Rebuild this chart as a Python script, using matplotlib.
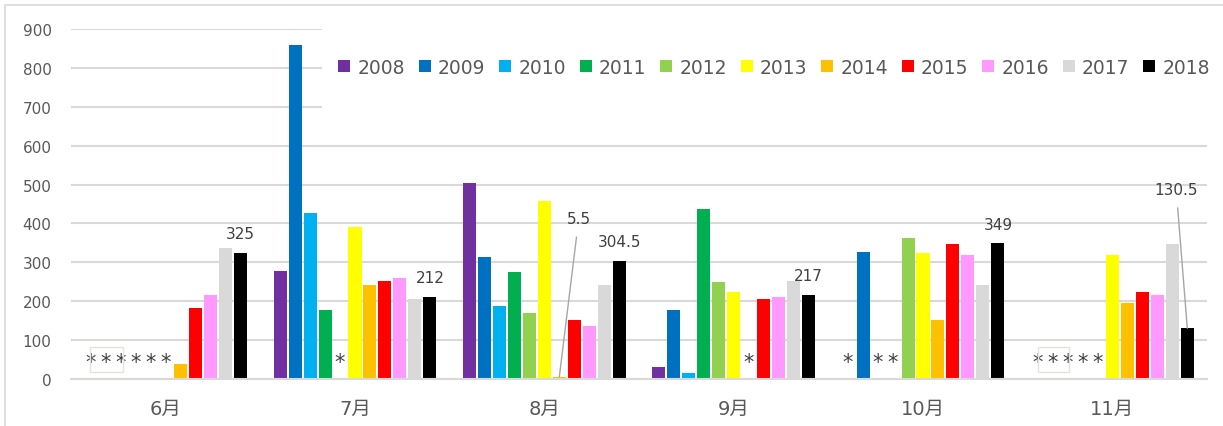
import matplotlib.pyplot as plt
import numpy as np
from matplotlib.patches import Patch, Rectangle

nan = np.nan

months = ["6月", "7月", "8月", "9月", "10月", "11月"]
years = ["2008", "2009", "2010", "2011", "2012", "2013",
         "2014", "2015", "2016", "2017", "2018"]
colors = ["#7030A0", "#0070C0", "#00B0F0", "#00B050", "#92D050", "#FFFF00",
          "#FFC000", "#FF0000", "#FF99FF", "#D9D9D9", "#000000"]

v2008 = [nan, 278, 504, 31, nan, nan]
v2009 = [nan, 860, 313, 177, 327, nan]
v2010 = [nan, 426, 188, 16, nan, nan]
v2011 = [nan, 177, 275, 436, nan, nan]
v2012 = [nan, nan, 170, 249, 362, nan]
v2013 = [nan, 392, 459, 223, 324, 320]
v2014 = [38, 242, 5.5, nan, 152, 196]
v2015 = [182, 253, 151, 207, 346, 223]
v2016 = [216, 260, 136, 211, 320, 216]
v2017 = [336, 205, 242, 252, 242, 346]
v2018 = [325, 212, 304.5, 217, 349, 130.5]

series = [v2008, v2009, v2010, v2011, v2012, v2013,
          v2014, v2015, v2016, v2017, v2018]

# labels on the 2018 bars; some have leader lines
label_2018 = ["325", "212", "304.5", "217", "349", "130.5"]

plt.rcParams["font.family"] = ["DejaVu Sans", "Noto Sans CJK SC"]
TXT = "#595959"

W, H = 1223, 427
fig = plt.figure(figsize=(W / 100, H / 100), dpi=100)
ax = fig.add_axes([71 / W, 1 - 380 / H, (1207 - 71) / W, 350 / H])

# outer chart border (top + left)
fig.add_artist(Rectangle((5 / W, -0.01), 1.0, 1 - 6 / H + 0.01,
                         transform=fig.transFigure, fill=False,
                         edgecolor="#d9d9d9", lw=1.2))

x = np.arange(len(months))
step = 0.0792
bw = 0.0687
offsets = (np.arange(len(years)) - 5) * step

for i, (vals, c) in enumerate(zip(series, colors)):
    vals = np.array(vals, dtype=float)
    ax.bar(x + offsets[i], np.nan_to_num(vals), width=bw, color=c,
           zorder=2, linewidth=0)
    for j, v in enumerate(vals):
        if np.isnan(v):
            ax.annotate("*", (x[j] + offsets[i], 0), xytext=(0, 12),
                        textcoords="offset points", ha="center", va="center",
                        fontsize=15, color="#404040", zorder=3)

# data labels on 2018
for j, v in enumerate(v2018):
    xb = x[j] + offsets[10]
    if label_2018[j] == "130.5":
        ax.annotate(label_2018[j], (xb, v), xytext=(-8, 100),
                    textcoords="offset points", ha="center", va="center",
                    fontsize=11, color="#404040",
                    arrowprops=dict(arrowstyle="-", color="#a6a6a6", lw=1,
                                    shrinkA=6, shrinkB=0))
    else:
        ax.annotate(label_2018[j], (xb, v), xytext=(0, 13.5),
                    textcoords="offset points", ha="center", va="center",
                    fontsize=11, color="#404040")

# 5.5 label on 8月 2014 with leader line
ax.annotate("5.5", (x[2] + offsets[6], v2014[2]), xytext=(14, 114),
            textcoords="offset points", ha="center", va="center",
            fontsize=11, color="#404040",
            arrowprops=dict(arrowstyle="-", color="#a6a6a6", lw=1,
                            shrinkA=6, shrinkB=0))

# faint leftover text boxes around asterisks
for x0, x1 in [(-0.40, -0.225), (4.608, 4.772)]:
    ax.add_patch(Rectangle((x0, 18), x1 - x0, 64, fill=False,
                           edgecolor="#e4e4de", lw=1, zorder=3))

# legend background hides the upper gridlines
ax.add_patch(Rectangle((322 / W, 1 - 118 / H), (1215 - 322) / W, 96 / H,
                       transform=fig.transFigure, facecolor="white",
                       edgecolor="none", zorder=1))

ax.set_xlim(-0.5, len(months) - 0.5)
ax.set_ylim(0, 900)
ax.set_yticks(np.arange(0, 901, 100))
ax.set_xticks(x)
ax.set_xticklabels(months)
ax.yaxis.grid(True, color="#d9d9d9", lw=1.5)
ax.set_axisbelow(True)
for s in ["top", "right", "left"]:
    ax.spines[s].set_visible(False)
ax.spines["bottom"].set_color("#d9d9d9")
ax.spines["bottom"].set_linewidth(1.5)
ax.tick_params(axis="y", length=0, pad=14, labelsize=11, labelcolor=TXT)
ax.tick_params(axis="x", length=0, pad=14, labelsize=14, labelcolor=TXT)

handles = [Patch(facecolor=c, edgecolor="none") for c in colors]
fig.legend(handles, years, loc="center", ncol=11,
           bbox_to_anchor=(774 / W, 1 - 68 / H), frameon=False,
           fontsize=13.5, labelcolor=TXT, handlelength=0.64,
           handleheight=0.64, handletextpad=0.37, columnspacing=0.75)

fig.savefig("out.png", dpi=100)
